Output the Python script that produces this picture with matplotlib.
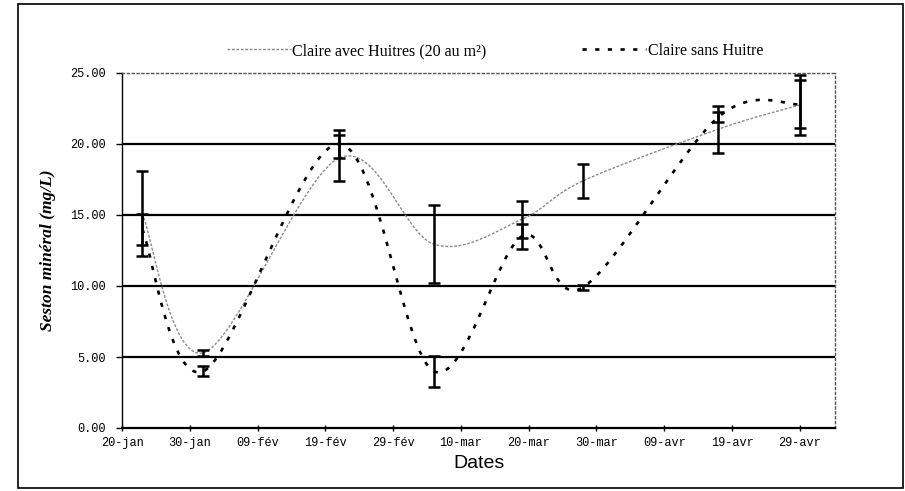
import matplotlib
matplotlib.use("Agg")
import matplotlib.pyplot as plt
import matplotlib.dates as mdates
from matplotlib.path import Path
from matplotlib.patches import PathPatch, Rectangle
from matplotlib.lines import Line2D
import numpy as np
import datetime as dt

# Sampling dates (2008) and mineral seston concentrations (mg/L)
sample_dates = ["2008-01-23", "2008-02-01", "2008-02-21", "2008-03-06",
                "2008-03-19", "2008-03-28", "2008-04-17", "2008-04-29"]
avec_huitres = [15.1, 5.3, 19.0, 12.95, 14.7, 17.4, 21.05, 22.75]
avec_err = [3.0, 0.2, 1.6, 2.75, 1.3, 1.2, 1.65, 2.1]
sans_huitre = [14.0, 4.0, 20.0, 4.0, 13.5, 9.9, 21.9, 22.8]
sans_err = [1.1, 0.35, 1.0, 1.1, 0.9, 0.2, 0.35, 1.7]

tick_dates = ["2008-01-20", "2008-01-30", "2008-02-09", "2008-02-19", "2008-02-29",
              "2008-03-10", "2008-03-20", "2008-03-30", "2008-04-09", "2008-04-19",
              "2008-04-29"]
tick_labels = ["20-jan", "30-jan", "09-fév", "19-fév", "29-fév", "10-mar",
               "20-mar", "30-mar", "09-avr", "19-avr", "29-avr"]
y_ticks = [0, 5, 10, 15, 20, 25]

label_avec = "Claire avec Huitres (20 au m²)"
label_sans = "Claire sans Huitre"


def to_num(s):
    return mdates.date2num(dt.datetime.strptime(s, "%Y-%m-%d"))


def smooth_path(xs, ys):
    """Spreadsheet-style smoothed line: cubic Bezier through every point."""
    pts = np.column_stack([xs, ys])
    n = len(pts)
    verts = [pts[0]]
    codes = [Path.MOVETO]
    for i in range(n - 1):
        p_prev = pts[i - 1] if i > 0 else pts[i]
        p_next2 = pts[i + 2] if i + 2 < n else pts[i + 1]
        c1 = pts[i] + (pts[i + 1] - p_prev) / 6.0
        c2 = pts[i + 1] - (p_next2 - pts[i]) / 6.0
        verts += [c1, c2, pts[i + 1]]
        codes += [Path.CURVE4] * 3
    return Path(verts, codes)


x = np.array([to_num(d) for d in sample_dates])

fig = plt.figure(figsize=(9.05, 4.91), dpi=100)
ax = fig.add_axes([122 / 905, 63 / 491, 713 / 905, 355 / 491])

# horizontal reference lines
for yv in y_ticks[1:-1]:
    ax.axhline(yv, color="black", lw=1.6, zorder=1)

avec_style = dict(color="#8a8a8a", lw=1.0, linestyle=(0, (2.0, 1.2)))
sans_style = dict(color="black", lw=1.9, linestyle=(0, (1.6, 3.2)))

ax.add_patch(PathPatch(smooth_path(x, avec_huitres), fill=False,
                       transform=ax.transData, zorder=2, **avec_style))
ax.add_patch(PathPatch(smooth_path(x, sans_huitre), fill=False,
                       transform=ax.transData, zorder=2, **sans_style))

ax.errorbar(x, avec_huitres, yerr=avec_err, fmt="none", ecolor="black",
            elinewidth=1.8, capsize=4.2, capthick=1.8, zorder=3)
ax.errorbar(x, sans_huitre, yerr=sans_err, fmt="none", ecolor="black",
            elinewidth=1.8, capsize=4.2, capthick=1.8, zorder=3)

x0 = to_num("2008-01-20")
ax.set_xlim(x0, x0 + 105.2)
ax.set_ylim(0, 25)

ax.set_xticks([to_num(d) for d in tick_dates])
ax.set_xticklabels(tick_labels, family="Liberation Mono", fontsize=8.6)
ax.set_yticks(y_ticks)
ax.set_yticklabels([f"{v:.2f}" for v in y_ticks], family="Liberation Mono",
                   fontsize=8.6)
ax.tick_params(axis="x", direction="inout", length=5, width=1, pad=4)
ax.tick_params(axis="y", direction="out", length=4, width=1, pad=8)

for side in ("top", "right"):
    ax.spines[side].set_linestyle((0, (1.5, 2)))
    ax.spines[side].set_color("#555555")
    ax.spines[side].set_linewidth(1.0)
ax.spines["left"].set_linewidth(1.0)
ax.spines["bottom"].set_linewidth(1.6)

ax.set_ylabel("Seston minéral (mg/L)", family="Liberation Serif",
              style="italic", fontweight="bold", fontsize=12.5, labelpad=10)
ax.set_xlabel("Dates", family="Liberation Sans", fontsize=14, labelpad=4)

handles = [Line2D([], [], **avec_style), Line2D([], [], **sans_style)]
fig.legend(handles, [label_avec, label_sans], loc="center",
           bbox_to_anchor=(0.547, 1 - 51 / 491), ncol=2, frameon=False,
           prop={"family": "Liberation Serif", "size": 11.5},
           handlelength=4.0, handletextpad=0.1, columnspacing=6.0)

# outer frame
fig.patches.append(Rectangle((18 / 905, 3 / 491), 885 / 905, 484 / 491,
                             transform=fig.transFigure, fill=False,
                             edgecolor="black", lw=1.2))

fig.savefig("out.png", dpi=100)
